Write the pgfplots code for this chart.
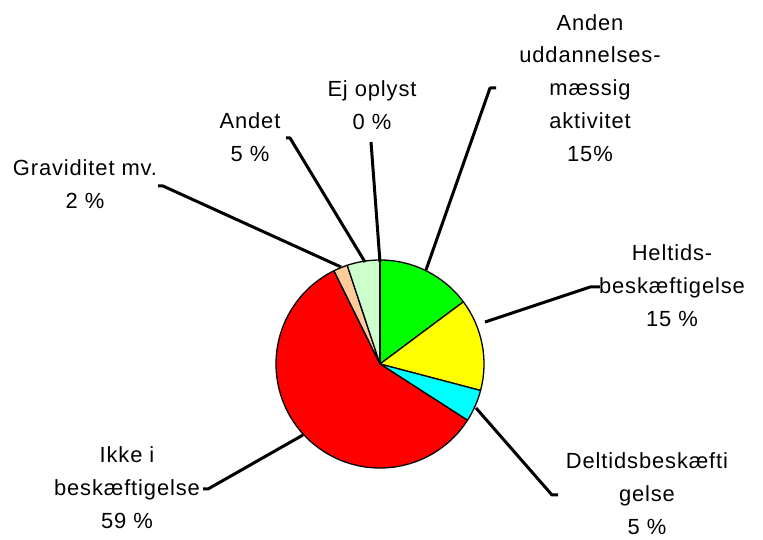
\documentclass[border=0pt]{standalone}
\usepackage{pgfplots}
\pgfplotsset{compat=1.18}
\usepackage{fontspec}
\setmainfont{Liberation Sans}[LetterSpace=4]
\definecolor{pgreen}{HTML}{00FF00}
\definecolor{pyellow}{HTML}{FFFF00}
\definecolor{pcyan}{HTML}{00FFFF}
\definecolor{pred}{HTML}{FF0000}
\definecolor{ppeach}{HTML}{FFCC99}
\definecolor{plgreen}{HTML}{CCFFCC}
\begin{document}
\begin{tikzpicture}
\path[use as bounding box] (0,0) rectangle (763bp,540bp);
\begin{axis}[at={(0,0)}, anchor=south west, width=763bp, height=540bp, scale only axis,
  xmin=0, xmax=763, ymin=0, ymax=540, hide axis, clip=false]
% pie slices: share in percent, clockwise from 12 o'clock
\xdef\cum{0}
\foreach \v/\c in {14.8/pgreen, 14.3/pyellow, 5.0/pcyan, 58.6/pred, 2.2/ppeach, 5.1/plgreen, 0.0/white}{
  \pgfmathsetmacro\a{90-3.6*\cum}
  \pgfmathsetmacro\b{90-3.6*(\cum+\v)}
  \edef\temp{\noexpand\filldraw[fill=\c, draw=black, line width=1.3bp, line join=round]
     (axis cs:380,176) -- ++(\a:104bp) arc[start angle=\a, end angle=\b, radius=104bp] -- cycle;}
  \temp
  \pgfmathsetmacro\n{\cum+\v}
  \xdef\cum{\n}
}
% leader lines
\tikzset{lead/.style={line width=3bp, line join=round}}
\draw[lead] (axis cs:426,270) -- (axis cs:490,452) -- (axis cs:496,452);
\draw[lead] (axis cs:380,278) -- (axis cs:371,398);
\draw[lead] (axis cs:365,278) -- (axis cs:290,402) -- (axis cs:286,402);
\draw[lead] (axis cs:341,273) -- (axis cs:163,354) -- (axis cs:158,354);
\draw[lead] (axis cs:485,218) -- (axis cs:590,253) -- (axis cs:600,253);
\draw[lead] (axis cs:476,132) -- (axis cs:552,45) -- (axis cs:558,45);
\draw[lead] (axis cs:303,105) -- (axis cs:208,51) -- (axis cs:203,51);
% labels
\tikzset{lbl/.style={align=center, font=\fontsize{22}{33}\selectfont, inner sep=0pt}}
\node[lbl] at (axis cs:590,452) {Anden\\uddannelses-\\mæssig\\aktivitet\\15\%};
\node[lbl] at (axis cs:372,435) {Ej oplyst\\0 \%};
\node[lbl] at (axis cs:250,403) {Andet\\5 \%};
\node[lbl] at (axis cs:85,356) {Graviditet mv.\\2 \%};
\node[lbl] at (axis cs:672,254) {Heltids-\\beskæftigelse\\15 \%};
\node[lbl] at (axis cs:647,46) {Deltidsbeskæfti\\gelse\\5 \%};
\node[lbl] at (axis cs:127,52) {Ikke i\\beskæftigelse\\59 \%};
\end{axis}
\end{tikzpicture}
\end{document}
